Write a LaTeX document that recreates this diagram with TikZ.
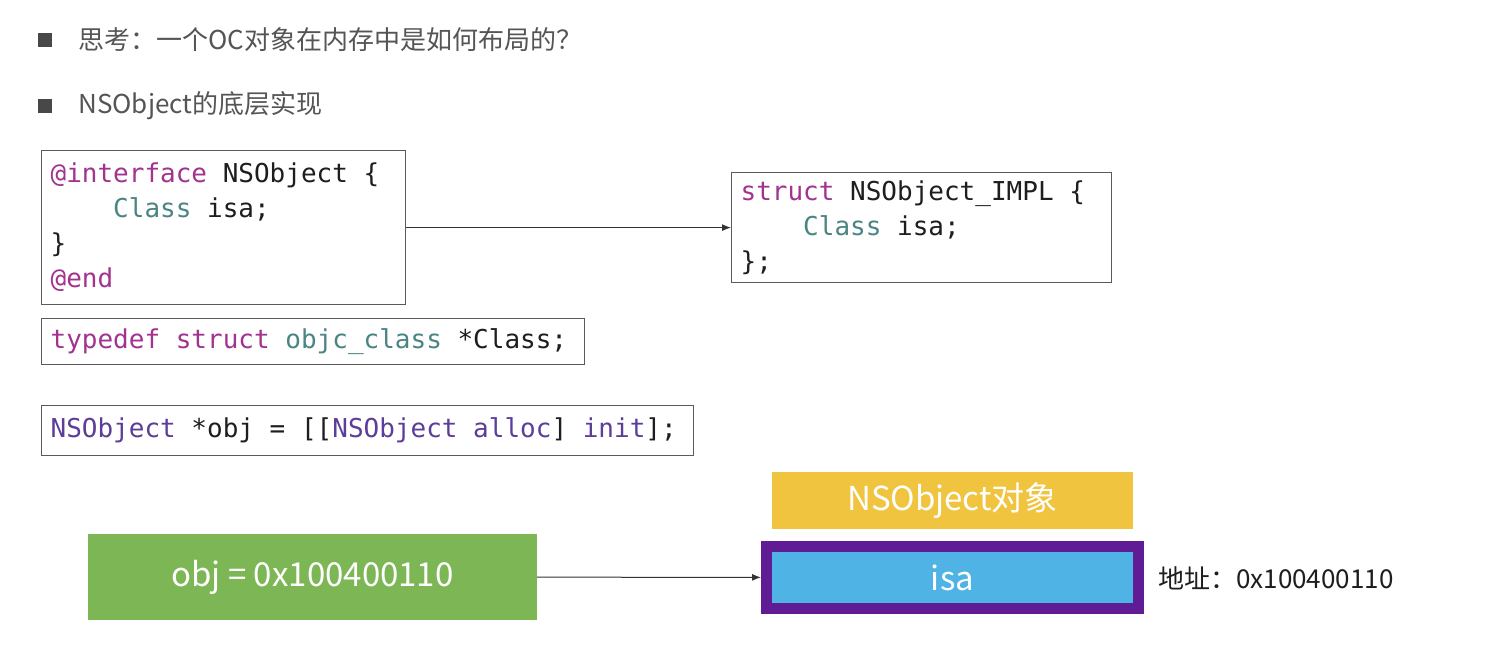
\documentclass[tikz,border=0pt]{standalone}
\usepackage{fontspec}
\newfontfamily\cjk{Noto Sans CJK SC}
\setmonofont{DejaVu Sans Mono}
\definecolor{xckeyword}{HTML}{A2338F}
\definecolor{xctype}{HTML}{4A8583}
\definecolor{xcclass}{HTML}{5C3D99}
\definecolor{xcplain}{HTML}{1E1E1E}
\definecolor{boxgray}{HTML}{5A5A5A}
\definecolor{titlegray}{HTML}{555555}
\definecolor{bulletgray}{HTML}{484848}
\definecolor{objyellow}{HTML}{F0C43F}
\definecolor{objgreen}{HTML}{7DB655}
\definecolor{objpurple}{HTML}{601C95}
\definecolor{objblue}{HTML}{4FB3E5}
\usepackage{tikz}
\usetikzlibrary{arrows.meta, positioning}

\newcommand\codefont{\ttfamily\fontsize{26}{35}\selectfont}
\newcommand\kw[1]{\textcolor{xckeyword}{#1}}
\newcommand\ty[1]{\textcolor{xctype}{#1}}
\newcommand\cl[1]{\textcolor{xcclass}{#1}}
\newcommand\ind{\phantom{0000}}
\newcommand\us{\char`\_}

\begin{document}
\begin{tikzpicture}[x=1pt, y=-1pt,
    bullet/.style={rectangle, fill=bulletgray, minimum size=14pt, inner sep=0pt},
    title/.style={inner sep=0pt, font=\cjk\fontsize{26}{30}\selectfont, text=titlegray},
    codebox/.style={draw=boxgray, line width=1.2pt, anchor=north west,
                    inner xsep=9pt, inner ysep=0pt, align=flush left,
                    font=\codefont, text=xcplain},
    membox/.style={rectangle, inner sep=0pt, text=white,
                   font=\cjk\fontsize{33}{36}\selectfont},
    conn/.style={-{Latex[length=9pt, width=7pt]}, line width=1pt, draw=black!80}
  ]
    \useasboundingbox[fill=white] (0,0) rectangle (1492,654);
    % Bullet lines
    \node[bullet] (b1) at (45,40) {};
    \node[title, right=26pt of b1] (t1) {思考：一个OC对象在内存中是如何布局的？};
    \node[bullet] (b2) at (45,106) {};
    \node[title, right=26pt of b2] (t2) {NSObject的底层实现};
    % Code boxes
    \node[codebox, text width=346pt, minimum height=154pt] (iface) at (41,150)
      {\kw{@interface} NSObject \{\\
       \ind\ty{Class} isa;\\
       \}\\
       \kw{@end}};
    \node[codebox, text width=525pt, minimum height=46pt] (tdef) at (41,318)
      {\kw{typedef} \kw{struct} \ty{objc\us class} *Class;};
    \node[codebox, text width=634pt, minimum height=50pt] (alloc) at (41,405)
      {\cl{NSObject} *obj = [[\cl{NSObject} \cl{alloc}] \cl{init}];};
    \node[codebox, text width=362pt, minimum height=110pt] (impl) at (731,172)
      {\kw{struct} NSObject\us IMPL \{\\
       \ind\ty{Class} isa;\\
       \};};
    \draw[conn] (iface) -- (impl);
    % Memory layout
    \node[membox, fill=objyellow, minimum width=361pt, minimum height=57pt]
      (objname) at (952.5,500.5) {NSObject对象};
    \node[membox, fill=objgreen, minimum width=449pt, minimum height=86pt]
      (ptr) at (312.5,577) {obj = 0x100400110};
    \node[membox, fill=objblue, draw=objpurple, line width=11pt,
          minimum width=372pt, minimum height=62pt]
      (isa) at (952.5,577.5) {isa};
    \node[inner sep=0pt, anchor=west, text=xcplain,
          font=\cjk\fontsize{26}{29}\selectfont]
      (addr) at (1158,578) {地址：0x100400110};
    \draw[conn] (ptr) -- (isa);
  \end{tikzpicture}
\end{document}
